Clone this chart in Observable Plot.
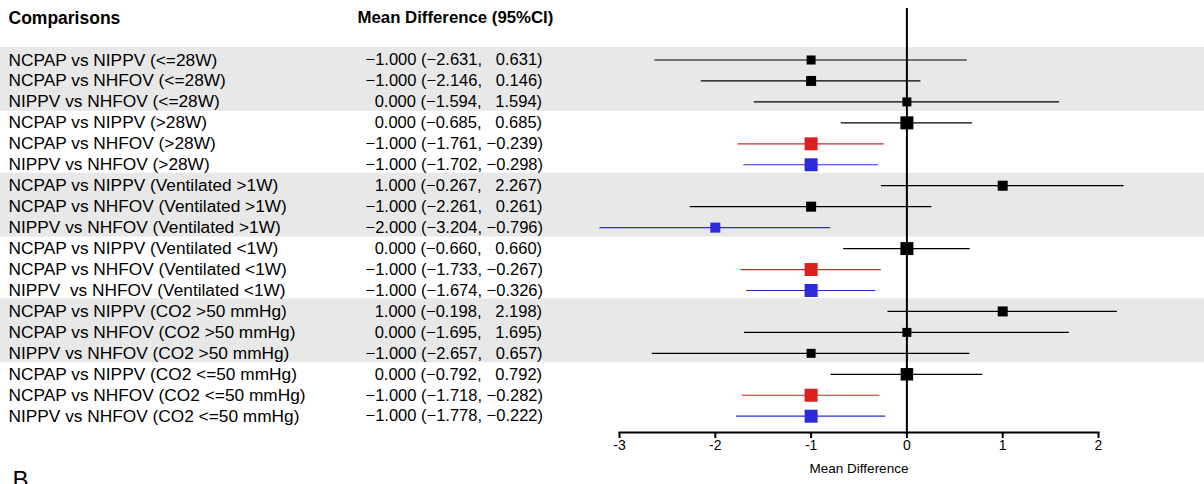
<!DOCTYPE html>
<html>
<head>
<meta charset="utf-8">
<script src="https://cdn.jsdelivr.net/npm/d3@7"></script>
<script src="https://cdn.jsdelivr.net/npm/@observablehq/plot@0.6"></script>
<style>
  html, body { margin: 0; padding: 0; background: #fff; overflow: hidden; }
</style>
</head>
<body>
<div id="chart"></div>
<script>
// Subgroup comparisons of respiratory support modes
const comparisons = [
  "NCPAP vs NIPPV (<=28W)",
  "NCPAP vs NHFOV (<=28W)",
  "NIPPV vs NHFOV (<=28W)",
  "NCPAP vs NIPPV (>28W)",
  "NCPAP vs NHFOV (>28W)",
  "NIPPV vs NHFOV (>28W)",
  "NCPAP vs NIPPV (Ventilated >1W)",
  "NCPAP vs NHFOV (Ventilated >1W)",
  "NIPPV vs NHFOV (Ventilated >1W)",
  "NCPAP vs NIPPV (Ventilated <1W)",
  "NCPAP vs NHFOV (Ventilated <1W)",
  "NIPPV  vs NHFOV (Ventilated <1W)",
  "NCPAP vs NIPPV (CO2 >50 mmHg)",
  "NCPAP vs NHFOV (CO2 >50 mmHg)",
  "NIPPV vs NHFOV (CO2 >50 mmHg)",
  "NCPAP vs NIPPV (CO2 <=50 mmHg)",
  "NCPAP vs NHFOV (CO2 <=50 mmHg)",
  "NIPPV vs NHFOV (CO2 <=50 mmHg)"
];
const meanDiff = [-1, -1, 0, 0, -1, -1, 1, -1, -2, 0, -1, -1, 1, 0, -1, 0, -1, -1];
const lower = [-2.631, -2.146, -1.594, -0.685, -1.761, -1.702, -0.267, -2.261, -3.204,
               -0.660, -1.733, -1.674, -0.198, -1.695, -2.657, -0.792, -1.718, -1.778];
const upper = [0.631, 0.146, 1.594, 0.685, -0.239, -0.298, 2.267, 0.261, -0.796,
               0.660, -0.267, -0.326, 2.198, 1.695, 0.657, 0.792, -0.282, -0.222];
// relative weight of each estimate (box size)
const weight = [0.9, 1.0, 0.9, 1.3, 1.3, 1.3, 1.0, 1.0, 1.0,
                1.3, 1.3, 1.3, 1.0, 0.9, 0.9, 1.25, 1.3, 1.3];
const xTicks = [-3, -2, -1, 0, 1, 2];

// numbers padded so that signs line up
const fmt = v => (v < 0 ? "\u2212" : "\u2007") + Math.abs(v).toFixed(3);

const rows = comparisons.map((label, k) => {
  const sig = upper[k] < 0 || lower[k] > 0;
  const group = !sig ? "ns" : label.startsWith("NCPAP") ? "NCPAP vs NHFOV" : "NIPPV vs NHFOV";
  return {
    row: k + 1, label, mean: meanDiff[k], lo: lower[k], hi: upper[k], weight: weight[k], group,
    ci: `${fmt(meanDiff[k])} (${fmt(lower[k])}, ${fmt(upper[k])})`
  };
});

// alternate shading per block of three comparisons
const bands = d3.range(0, rows.length, 3)
  .filter((s, b) => b % 2 === 0)
  .map(s => ({y1: s + 1 - 0.6, y2: s + 3 + 0.45}));

const headerRow = -1;
const font = "'Liberation Sans', Arial, Helvetica, sans-serif";

const chart = Plot.plot({
  width: 1204,
  height: 484,
  marginLeft: 619,
  marginRight: 106,
  marginTop: 8,
  marginBottom: 52,
  style: {fontFamily: font, fontSize: "16.5px", background: "#fff", color: "#000"},
  x: {domain: [-3, 2]},
  y: {domain: [1, 18], range: [59.5, 415.7], axis: null},
  color: {domain: ["ns", "NCPAP vs NHFOV", "NIPPV vs NHFOV"], range: ["#000000", "#db1f1f", "#2b2bd9"]},
  r: {type: "linear", domain: [0, 1], range: [0, 10 / Math.sqrt(Math.PI)]},
  marks: [
    Plot.rect(bands, {y1: "y1", y2: "y2", fill: "#e8e8e8", insetLeft: -619, insetRight: -106}),
    Plot.ruleX([0], {stroke: "#000", strokeWidth: 2}),
    Plot.ruleY(rows, {y: "row", x1: "lo", x2: "hi", stroke: "group", strokeWidth: 1.2}),
    Plot.dot(rows, {x: "mean", y: "row", r: "weight", symbol: "square", fill: "group", stroke: null}),
    Plot.frame({anchor: "bottom", strokeWidth: 2}),
    Plot.axisX({ticks: xTicks, tickFormat: d => String(d), tickSize: 6, tickPadding: 2,
                strokeWidth: 2, fontSize: 14, label: null}),
    Plot.text(["Mean Difference"], {frameAnchor: "bottom", dx: 0, dy: 36, lineAnchor: "middle", fontSize: 13.5}),
    Plot.text(rows, {y: "row", text: "label", frameAnchor: "left", dx: -611, textAnchor: "start", fontSize: 17.3}),
    Plot.text(rows, {y: "row", text: "ci", frameAnchor: "left", dx: -254, textAnchor: "start", fontSize: 16.5}),
    Plot.text(["Comparisons"], {y: [headerRow], frameAnchor: "left", dx: -611, textAnchor: "start",
                                fontSize: 17.5, fontWeight: "bold"}),
    Plot.text(["Mean Difference (95%CI)"], {y: [headerRow], frameAnchor: "left", dx: -262, textAnchor: "start",
                                fontSize: 16.8, fontWeight: "bold"}),
    Plot.text(["B"], {frameAnchor: "bottom-left", dx: -607, dy: 38, lineAnchor: "top", textAnchor: "start", fontSize: 24})
  ]
});

document.getElementById("chart").appendChild(chart);
</script>
</body>
</html>
